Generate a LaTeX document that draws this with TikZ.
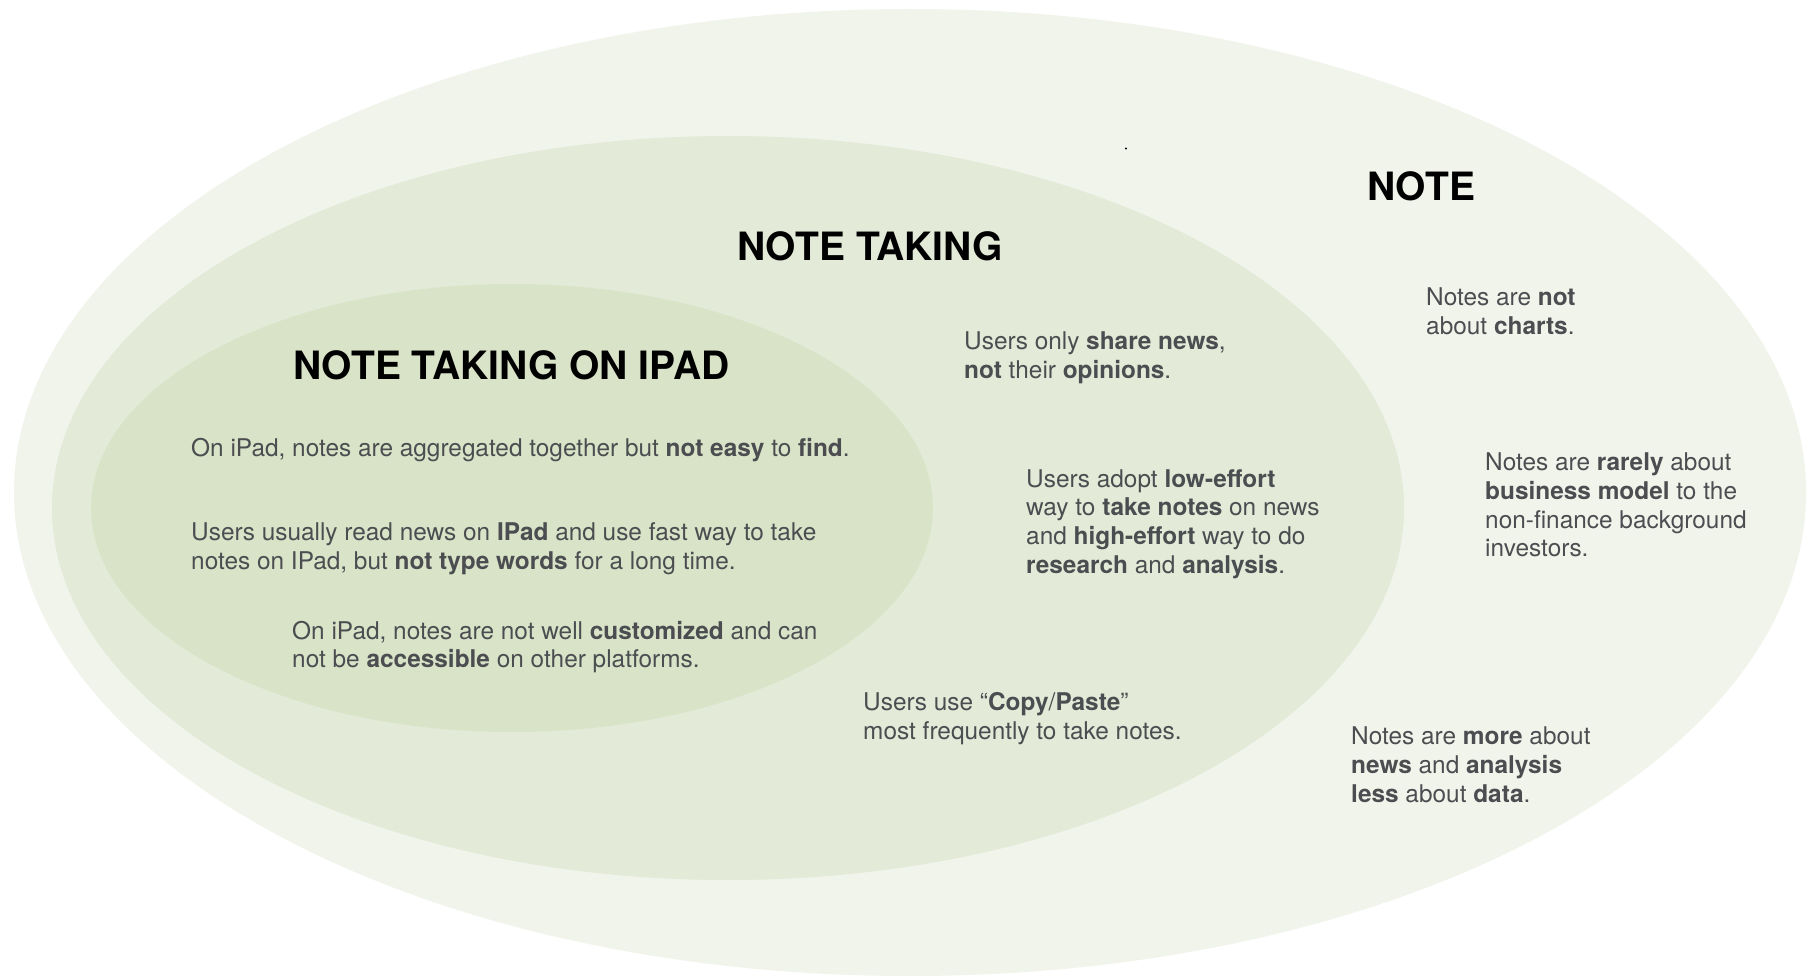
\documentclass[tikz,border=0pt]{standalone}
\usepackage{fontspec}
\setmainfont{TeX Gyre Heros}
\definecolor{outerc}{HTML}{F1F4EB}
\definecolor{midc}{HTML}{E3EAD7}
\definecolor{innerc}{HTML}{D9E3C8}
\definecolor{txt}{HTML}{4B4D50}
\begin{document}
\begin{tikzpicture}[x=1pt,y=-1pt,
  title/.style={font=\fontsize{39}{44}\selectfont\bfseries, text=black, inner sep=0pt, anchor=west},
  body/.style={font=\fontsize{24.4}{28.8}\selectfont, text=txt, align=left, inner sep=0pt, anchor=west}]
\useasboundingbox[fill=white] (0,0) rectangle (1811,976);
\fill[outerc] (910,492.5) ellipse [x radius=896, y radius=483.5];
\fill[midc] (728,508) ellipse [x radius=676, y radius=372];
\fill[innerc] (512,508) ellipse [x radius=421, y radius=224];
\fill[black] (1126,148.5) circle (1.2);
% titles
\node[title] (tnote) at (1367,186) {NOTE};
\node[title] (ttaking) at (737,246) {NOTE TAKING};
\node[title] (tipad) at (293,365) {NOTE TAKING ON IPAD};
% inner texts
\node[body] (i1) at (191,450.5) {On iPad, notes are aggregated together but \textbf{not easy} to \textbf{find}.};
\node[body] (i2) at (191,549) {Users usually read news on \textbf{IPad} and use fast way to take\\notes on IPad, but \textbf{not type words} for a long time.};
\node[body] (i3) at (292,647) {On iPad, notes are not well \textbf{customized} and can\\not be \textbf{accessible} on other platforms.};
% middle texts
\node[body] (m1) at (964,358) {Users only \textbf{share news},\\\textbf{not} their \textbf{opinions}.};
\node[body] (m2) at (1026,524) {Users adopt \textbf{low-effort}\\way to \textbf{take notes} on news\\and \textbf{high-effort} way to do\\\textbf{research} and \textbf{analysis}.};
\node[body] (m3) at (863,719) {Users use “\textbf{Copy}/\textbf{Paste}”\\most frequently to take notes.};
% outer texts
\node[body] (o1) at (1426,311.5) {Notes are \textbf{not}\\about \textbf{charts}.};
\node[body] (o2) at (1485,505) {Notes are \textbf{rarely} about\\\textbf{business model} to the\\non-finance background\\investors.};
\node[body] (o3) at (1351,764.5) {Notes are \textbf{more} about\\\textbf{news} and \textbf{analysis}\\\textbf{less} about \textbf{data}.};
\end{tikzpicture}
\end{document}
